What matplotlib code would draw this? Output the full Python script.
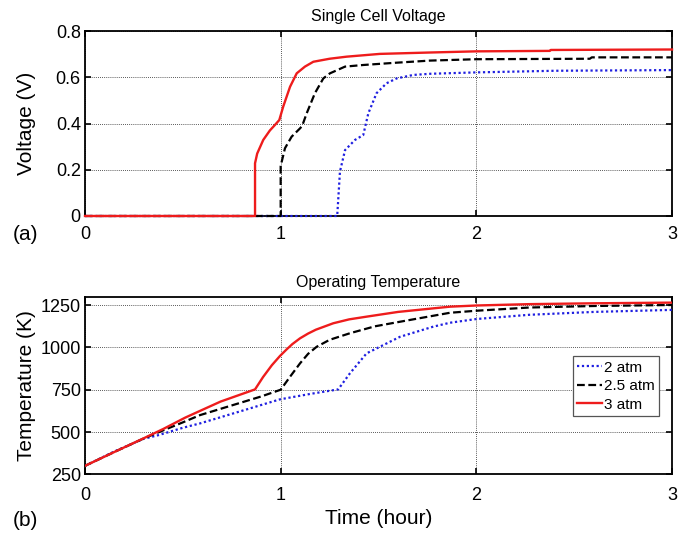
import matplotlib
matplotlib.use("Agg")
import matplotlib.pyplot as plt

plt.rcParams['font.family'] = ['Liberation Sans', 'DejaVu Sans']

# ---- Single cell voltage (V) vs time (hour) ----
t_v_3atm = [0, 0.869, 0.869, 0.88, 0.911, 0.945, 0.971, 0.993, 1.013, 1.048, 1.082,
            1.124, 1.167, 1.25, 1.337, 1.507, 1.763, 2.0, 2.376, 2.38, 3.0]
v_3atm = [0, 0, 0.228, 0.27, 0.329, 0.37, 0.394, 0.415, 0.473, 0.559, 0.617,
          0.646, 0.667, 0.680, 0.689, 0.701, 0.707, 0.712, 0.714, 0.718, 0.720]

t_v_25atm = [0, 1.0, 1.0, 1.022, 1.056, 1.099, 1.110, 1.133, 1.175, 1.218, 1.252,
             1.329, 1.422, 1.593, 1.763, 2.0, 2.58, 2.59, 3.0]
v_25atm = [0, 0, 0.216, 0.293, 0.343, 0.379, 0.39, 0.444, 0.531, 0.595, 0.617,
           0.646, 0.653, 0.663, 0.672, 0.678, 0.680, 0.686, 0.686]

t_v_2atm = [0, 1.289, 1.303, 1.329, 1.380, 1.422, 1.448, 1.490, 1.541, 1.593,
            1.678, 1.763, 2.0, 2.4, 3.0]
v_2atm = [0, 0, 0.192, 0.285, 0.329, 0.350, 0.444, 0.531, 0.574, 0.595,
          0.610, 0.615, 0.621, 0.628, 0.631]

# ---- Operating temperature (K) vs time (hour) ----
t_T_3atm = [0, 0.15, 0.3, 0.4, 0.512, 0.588, 0.693, 0.869, 0.91, 0.955, 0.996, 1.03,
            1.06, 1.099, 1.14, 1.18, 1.269, 1.35, 1.439, 1.6, 1.865, 2.0, 2.27, 2.6, 3.0]
T_3atm = [300, 382, 463, 518, 585, 625, 680, 752, 825, 895, 949, 988,
          1020, 1054, 1082, 1105, 1143, 1166, 1182, 1210, 1241, 1248, 1256, 1261, 1265]

t_T_25atm = [0, 0.15, 0.3, 0.4, 0.5, 0.588, 0.758, 0.9, 1.0, 1.05, 1.099, 1.14, 1.184,
             1.25, 1.354, 1.482, 1.61, 1.865, 2.0, 2.27, 2.6, 3.0]
T_25atm = [300, 382, 462, 510, 557, 600, 660, 710, 750, 830, 906, 962, 1004,
           1045, 1084, 1125, 1152, 1205, 1217, 1236, 1245, 1251]

t_T_2atm = [0, 0.15, 0.3, 0.377, 0.5, 0.588, 0.758, 0.996, 1.15, 1.294, 1.354,
            1.439, 1.507, 1.61, 1.78, 1.865, 2.0, 2.27, 2.6, 3.0]
T_2atm = [300, 385, 460, 482, 525, 551, 610, 693, 725, 752, 847,
          965, 1004, 1063, 1123, 1146, 1168, 1193, 1210, 1222]

labels = ['2 atm', '2.5 atm', '3 atm']
x_ticks = [0, 1, 2, 3]
v_ticks = [0, 0.2, 0.4, 0.6, 0.8]
T_ticks = [250, 500, 750, 1000, 1250]

W, H = 691, 534
fig = plt.figure(figsize=(W / 100, H / 100), dpi=100)


def px_axes(left, top, right, bottom):
    return fig.add_axes([left / W, 1 - bottom / H, (right - left) / W, (bottom - top) / H])


ax1 = px_axes(85, 31, 672, 216)
ax2 = px_axes(85, 296.7, 672, 474.3)

styles = [dict(color='#1f1fe0', linestyle=(0, (1.0, 1.2)), lw=1.6),
          dict(color='black', linestyle=(0, (3.5, 1.6)), lw=1.6),
          dict(color='#ee1c1c', linestyle='-', lw=1.7)]

for t, v, st, lab in zip([t_v_2atm, t_v_25atm, t_v_3atm], [v_2atm, v_25atm, v_3atm], styles, labels):
    ax1.plot(t, v, label=lab, clip_on=False, zorder=3, **st)

for t, T, st, lab in zip([t_T_2atm, t_T_25atm, t_T_3atm], [T_2atm, T_25atm, T_3atm], styles, labels):
    ax2.plot(t, T, label=lab, zorder=3, **st)

for ax in (ax1, ax2):
    ax.set_xlim(0, 3)
    ax.set_xticks(x_ticks)
    ax.grid(True, color='#222222', linestyle=(0, (1, 1.5)), linewidth=0.6)
    ax.tick_params(direction='in', top=True, right=True, length=4, width=1.2,
                   labelsize=13)
    for s in ax.spines.values():
        s.set_linewidth(1.3)

ax1.set_ylim(0, 0.8)
ax1.set_yticks(v_ticks)
ax1.set_yticklabels(['0', '0.2', '0.4', '0.6', '0.8'])
ax1.tick_params(axis='x', pad=7)
ax1.tick_params(axis='y', pad=3)
ax1.set_title('Single Cell Voltage', fontsize=11.5, pad=7)
ax1.set_ylabel('Voltage (V)', fontsize=15)
ax1.yaxis.label.set_va('center')
ax1.yaxis.set_label_coords((26.5 - 85) / 587, 0.5)

ax2.set_ylim(250, 1300)
ax2.set_yticks(T_ticks)
ax2.tick_params(axis='x', pad=9)
ax2.tick_params(axis='y', pad=3)
ax2.set_title('Operating Temperature', fontsize=11.5, pad=7)
ax2.set_ylabel('Temperature (K)', fontsize=15)
ax2.yaxis.label.set_va('center')
ax2.yaxis.set_label_coords((26.5 - 85) / 587, 0.5)
ax2.set_xlabel('Time (hour)', fontsize=15)
ax2.xaxis.label.set_va('center')
ax2.xaxis.set_label_coords(0.5, (474.3 - 519) / 177.6)

leg = ax2.legend(loc='upper right', bbox_to_anchor=((659.3 - 85) / 587, (474.3 - 356) / 177.6),
                 borderaxespad=0, fontsize=11, handlelength=1.6, handletextpad=0.15,
                 labelspacing=0.3, borderpad=0.3, fancybox=False, framealpha=1)
leg.get_frame().set_edgecolor('#555555')
leg.get_frame().set_linewidth(0.9)

fig.text(25 / W, 1 - 234 / H, '(a)', fontsize=15, ha='center', va='center')
fig.text(25 / W, 1 - 520 / H, '(b)', fontsize=15, ha='center', va='center')

fig.savefig('out.png', dpi=100)
